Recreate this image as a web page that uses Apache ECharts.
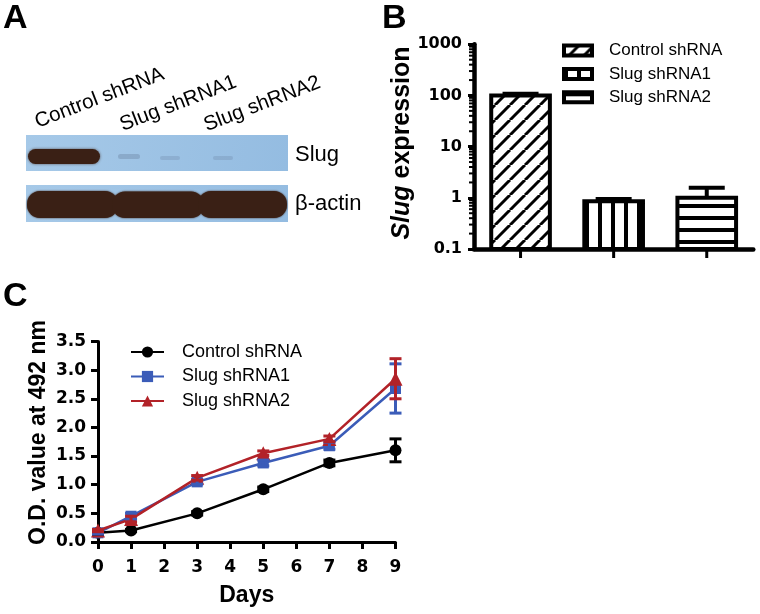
<!DOCTYPE html>
<html><head><meta charset="utf-8">
<script src="https://cdn.jsdelivr.net/npm/echarts@6/dist/echarts.min.js"></script>
<style>html,body{margin:0;padding:0;background:#fff}#c{width:760px;height:614px}</style>
</head><body><div id="c"></div>
<script>
// ---------- data ----------
const laneLabels = ['Control shRNA', 'Slug shRNA1', 'Slug shRNA2'];
const blotRowLabels = ['Slug', 'β-actin'];
const groups = ['Control shRNA', 'Slug shRNA1', 'Slug shRNA2'];
const slugExpr = [100, 0.86, 1.0];
const slugExprErr = [8, 0.09, 0.57];
const slugTickLabels = ['0.1', '1', '10', '100', '1000'];
const slugMinorTicks = [0.2,0.3,0.4,0.5,0.6,0.7,0.8,0.9, 2,3,4,5,6,7,8,9, 20,30,40,50,60,70,80,90, 200,300,400,500,600,700,800,900];
const days = [0, 1, 3, 5, 7, 9];
const odControl = [0.16, 0.2, 0.5, 0.92, 1.38, 1.6];
const odControlErr = [0.02, 0.02, 0.03, 0.04, 0.05, 0.2];
const odSh1 = [0.16, 0.45, 1.05, 1.38, 1.68, 2.68];
const odSh1Err = [0.02, 0.05, 0.04, 0.05, 0.06, 0.43];
const odSh2 = [0.2, 0.4, 1.12, 1.55, 1.8, 2.85];
const odSh2Err = [0.02, 0.05, 0.04, 0.04, 0.05, 0.35];
const odTickLabels = ['0.0','0.5','1.0','1.5','2.0','2.5','3.0','3.5'];

// ---------- styles ----------
const SANS = '"Liberation Sans", Arial, sans-serif';
const DV = '"DejaVu Sans", sans-serif';
const lineColors = ['#000000', '#3b5cb8', '#b22228'];
const lineSymbols = ['circle', 'rect', 'triangle'];
const lineSymbolSizes = [12, 11, 14];

function makePattern(kind) {
  const c = document.createElement('canvas');
  const g = c.getContext('2d');
  if (kind === 'diag') {
    const s = 15; c.width = s; c.height = s;
    g.fillStyle = '#fff'; g.fillRect(0, 0, s, s);
    g.strokeStyle = '#000'; g.lineWidth = 3;
    for (const k of [-s, 0, s]) { g.beginPath(); g.moveTo(k, s); g.lineTo(k + s, 0); g.stroke(); }
  } else if (kind === 'vert') {
    c.width = 13; c.height = 4;
    g.fillStyle = '#fff'; g.fillRect(0, 0, 13, 4);
    g.fillStyle = '#000'; g.fillRect(0, 0, 4, 4);
  } else {
    c.width = 4; c.height = 12;
    g.fillStyle = '#fff'; g.fillRect(0, 0, 4, 12);
    g.fillStyle = '#000'; g.fillRect(0, 0, 4, 4);
  }
  return { image: c, repeat: 'repeat' };
}
const patterns = [makePattern('diag'), makePattern('vert'), makePattern('horiz')];

// ---------- panel A (blot drawing) ----------
const blotBlue = { type: 'linear', x: 0, y: 0, x2: 1, y2: 1, colorStops: [{offset: 0, color: '#a6c9e8'}, {offset: 1, color: '#94bce1'}] };
const brown = '#3a2015';
const rad = d => d * Math.PI / 180;
function rotLabel(text, bx, by, fs, deg) {
  const t = rad(deg), k = 0.35 * fs;
  return { type: 'text', x: bx - Math.sin(t) * k, y: by - Math.cos(t) * k, rotation: t,
    style: { text, fontSize: fs, fontFamily: SANS, fill: '#000', align: 'left', verticalAlign: 'middle' } };
}
const laneX = [38.3, 123.3, 207.3];
const laneY = [129.3, 132.3, 132.7];
const graphicEls = [
  { type: 'text', x: 3, y: 18.5, style: { text: 'A', fontSize: 34, fontWeight: 'bold', fontFamily: SANS, fill: '#000', verticalAlign: 'middle' } },
  { type: 'text', x: 382, y: 18.5, style: { text: 'B', fontSize: 34, fontWeight: 'bold', fontFamily: SANS, fill: '#000', verticalAlign: 'middle' } },
  { type: 'text', x: 3, y: 297, style: { text: 'C', fontSize: 34, fontWeight: 'bold', fontFamily: SANS, fill: '#000', verticalAlign: 'middle' } },
  // blot strips
  { type: 'rect', shape: { x: 26, y: 135, width: 262, height: 36 }, style: { fill: blotBlue } },
  { type: 'rect', shape: { x: 26, y: 185, width: 262, height: 37 }, style: { fill: blotBlue } },
  // slug band (control lane) + faint smudges
  { type: 'rect', shape: { x: 28, y: 149, width: 72, height: 15, r: 7.5 }, style: { fill: brown, shadowBlur: 3, shadowColor: 'rgba(58,32,21,0.7)' } },
  { type: 'rect', shape: { x: 118, y: 154, width: 22, height: 5, r: 2.5 }, style: { fill: 'rgba(90,110,140,0.3)' } },
  { type: 'rect', shape: { x: 160, y: 156, width: 20, height: 4, r: 2 }, style: { fill: 'rgba(90,110,140,0.22)' } },
  { type: 'rect', shape: { x: 213, y: 156, width: 20, height: 4, r: 2 }, style: { fill: 'rgba(90,110,140,0.22)' } },
  // actin bands
  { type: 'rect', shape: { x: 27, y: 191, width: 91, height: 27, r: 13 }, style: { fill: brown, shadowBlur: 2, shadowColor: brown } },
  { type: 'rect', shape: { x: 112, y: 191.5, width: 92, height: 26.5, r: 13 }, style: { fill: brown, shadowBlur: 2, shadowColor: brown } },
  { type: 'rect', shape: { x: 198, y: 191, width: 89, height: 27, r: 13 }, style: { fill: brown, shadowBlur: 2, shadowColor: brown } },
  // row labels
  { type: 'text', x: 295, y: 155.3, style: { text: blotRowLabels[0], fontSize: 22, fontFamily: SANS, fill: '#000', verticalAlign: 'middle' } },
  { type: 'text', x: 295, y: 204, style: { text: blotRowLabels[1], fontSize: 22, fontFamily: SANS, fill: '#000', verticalAlign: 'middle' } },
  // axis titles
  { type: 'text', x: 402.6, y: 143, rotation: Math.PI / 2,
    style: { text: '{i|Slug}{n| expression}', align: 'center', verticalAlign: 'middle', fill: '#000', fontSize: 25, fontWeight: 'bold', fontFamily: SANS,
      rich: { i: { fontStyle: 'italic', fontWeight: 'bold', fontSize: 25, fontFamily: SANS, fill: '#000' },
              n: { fontStyle: 'normal', fontWeight: 'bold', fontSize: 25, fontFamily: SANS, fill: '#000' } } } },
  { type: 'text', x: 39, y: 432.5, rotation: Math.PI / 2,
    style: { text: 'O.D. value at 492 nm', align: 'center', verticalAlign: 'middle', fill: '#000', fontSize: 23, fontWeight: 'bold', fontFamily: SANS } }
];
laneLabels.forEach((t, i) => graphicEls.push(rotLabel(t, laneX[i], laneY[i], 20.5, 21)));

// ---------- panel B series ----------
function barRender(params, api) {
  const cat = api.value(0), v = api.value(1), e = api.value(2);
  const top = api.coord([cat, v]);
  const errTop = api.coord([cat, v + e]);
  const cs = params.coordSys;
  const bottomY = cs.y + cs.height;
  const bw = api.size([1, 0])[0] * 0.63;
  const blk = { stroke: '#000', lineWidth: 4 };
  return { type: 'group', children: [
    { type: 'rect', shape: { x: top[0] - 1.5, y: bottomY, width: 3, height: 9 }, style: { fill: '#000' } },
    { type: 'line', shape: { x1: top[0], y1: top[1], x2: top[0], y2: errTop[1] }, style: blk },
    { type: 'line', shape: { x1: top[0] - 18, y1: errTop[1], x2: top[0] + 18, y2: errTop[1] }, style: blk },
    { type: 'rect', shape: { x: top[0] - bw / 2, y: top[1], width: bw, height: bottomY - top[1] }, style: { fill: patterns[cat], stroke: '#000', lineWidth: 4 } }
  ] };
}
const seriesB = groups.map((g, i) => ({
  name: g, type: 'custom', xAxisIndex: 0, yAxisIndex: 0, clip: false,
  itemStyle: { color: patterns[i], borderColor: '#000', borderWidth: 4 },
  renderItem: barRender, encode: { x: 0, y: 1 },
  data: [[i, slugExpr[i], slugExprErr[i]]]
}));
seriesB.push({
  name: 'minorTicks', type: 'custom', xAxisIndex: 0, yAxisIndex: 0, silent: true,
  renderItem: (params, api) => {
    const y = api.coord([0, api.value(1)])[1];
    const x = params.coordSys.x;
    return { type: 'line', shape: { x1: x - 5, y1: y, x2: x, y2: y }, style: { stroke: '#000', lineWidth: 2 } };
  },
  encode: { x: 0, y: 1 },
  data: slugMinorTicks.map(v => [0, v])
});

// ---------- panel C series ----------
const odSets = [odControl, odSh1, odSh2];
const odErrs = [odControlErr, odSh1Err, odSh2Err];
const cNames = groups.map(g => g + ' (C)');
const seriesC = [];
odSets.forEach((arr, k) => {
  seriesC.push({
    name: cNames[k], type: 'line', xAxisIndex: 1, yAxisIndex: 1,
    data: days.map((d, i) => [d, arr[i]]),
    symbol: lineSymbols[k], symbolSize: lineSymbolSizes[k], showSymbol: true,
    color: lineColors[k], lineStyle: { width: 2.5, color: lineColors[k] },
    itemStyle: { color: lineColors[k] }, z: 3
  });
});
odSets.forEach((arr, k) => {
  seriesC.push({
    name: cNames[k] + ' err', type: 'custom', xAxisIndex: 1, yAxisIndex: 1, silent: true, z: 4,
    renderItem: (params, api) => {
      const d = api.value(0), v = api.value(1), e = api.value(2);
      const hi = api.coord([d, v + e]), lo = api.coord([d, v - e]);
      const st = { stroke: lineColors[k], lineWidth: 3 };
      return { type: 'group', children: [
        { type: 'line', shape: { x1: hi[0], y1: hi[1], x2: lo[0], y2: lo[1] }, style: st },
        { type: 'line', shape: { x1: hi[0] - 6, y1: hi[1], x2: hi[0] + 6, y2: hi[1] }, style: st },
        { type: 'line', shape: { x1: lo[0] - 6, y1: lo[1], x2: lo[0] + 6, y2: lo[1] }, style: st }
      ] };
    },
    encode: { x: 0, y: 1 },
    data: days.map((d, i) => [d, arr[i], odErrs[k][i]])
  });
});

const chart = echarts.init(document.getElementById('c'), null, { renderer: 'canvas' });
chart.setOption({
  animation: false,
  backgroundColor: '#fff',
  graphic: { elements: graphicEls },
  grid: [
    { left: 474, top: 44.3, width: 279.3, height: 204.7, outerBoundsMode: 'none', containLabel: false },
    { left: 98, top: 341.5, width: 297.5, height: 200.5, outerBoundsMode: 'none', containLabel: false }
  ],
  legend: [
    { data: groups.map((g, i) => ({ name: g, icon: 'rect' })), orient: 'vertical', left: 562, top: 42, padding: 0,
      itemWidth: 28, itemHeight: 10, itemGap: 6.4, selectedMode: false,
      itemStyle: { borderColor: '#000', borderWidth: 4 },
      textStyle: { fontSize: 17, fontFamily: SANS, color: '#000', padding: [0, 0, 0, 12] } },
    { data: cNames, orient: 'vertical', left: 130, top: 343, padding: 0,
      itemWidth: 33, itemHeight: 14, itemGap: 6.5, selectedMode: false,
      formatter: n => n.replace(' (C)', ''),
      textStyle: { fontSize: 18, fontFamily: SANS, color: '#000', padding: [0, 0, 0, 13] } }
  ],
  xAxis: [
    { gridIndex: 0, type: 'category', data: groups, boundaryGap: true,
      axisLine: { onZero: false, lineStyle: { color: '#000', width: 4.5 } },
      axisTick: { show: false },
      axisLabel: { show: false }, splitLine: { show: false } },
    { gridIndex: 1, type: 'value', min: 0, max: 9, interval: 1,
      axisLine: { onZero: false, lineStyle: { color: '#000', width: 3 } },
      axisTick: { show: true, length: 7, lineStyle: { color: '#000', width: 3 } },
      axisLabel: { margin: 17, fontSize: 17, fontWeight: 'bold', fontFamily: DV, color: '#000' },
      splitLine: { show: false },
      name: 'Days', nameLocation: 'middle', nameGap: 42,
      nameTextStyle: { fontSize: 23, fontWeight: 'bold', fontFamily: SANS, color: '#000' } }
  ],
  yAxis: [
    { gridIndex: 0, type: 'log', logBase: 10, min: 0.1, max: 1000, interval: 1,
      axisLine: { show: true, onZero: false, lineStyle: { color: '#000', width: 4.5 } },
      axisTick: { show: true, length: 6, lineStyle: { color: '#000', width: 3 } },
      axisLabel: { margin: 12, fontSize: 16, fontWeight: 'bold', fontFamily: DV, color: '#000',
        formatter: v => slugTickLabels[Math.round(Math.log10(v)) + 1] },
      splitLine: { show: false } },
    { gridIndex: 1, type: 'value', min: 0, max: 3.5, interval: 0.5,
      axisLine: { show: true, onZero: false, lineStyle: { color: '#000', width: 3 } },
      axisTick: { show: true, length: 7, lineStyle: { color: '#000', width: 3 } },
      axisLabel: { margin: 12, fontSize: 17, fontWeight: 'bold', fontFamily: DV, color: '#000',
        formatter: v => odTickLabels[Math.round(v / 0.5)] },
      splitLine: { show: false } }
  ],
  series: seriesB.concat(seriesC)
});
</script></body></html>
